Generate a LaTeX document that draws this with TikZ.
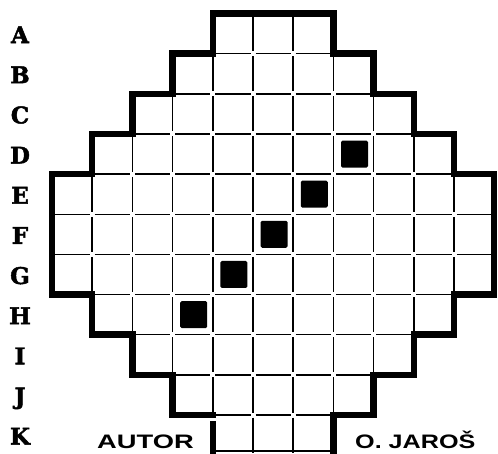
\documentclass[tikz,border=0pt]{standalone}
\usepackage{fontspec}
\newfontfamily\lblfont[BoldFeatures={FakeBold=2}]{DejaVu Serif}
\newfontfamily\sigfont{Liberation Sans}
\tikzset{
  gridline/.style={line width=1.5pt, black},
  outline/.style={line width=6.5pt, line join=miter, line cap=rect, black},
  piece/.style={rectangle, fill=black, rounded corners=1.5pt, minimum size=27pt, inner sep=0pt},
  rowlabel/.style={font=\lblfont\bfseries\fontsize{23}{23}\selectfont, anchor=base, inner sep=0pt},
  signature/.style={font=\sigfont\bfseries\fontsize{19.5}{19.5}\selectfont, anchor=base west, inner sep=0pt},
}
\begin{document}
\begin{tikzpicture}[x=1pt,y=-1pt]
\useasboundingbox (0,0) rectangle (498,453);
\fill[white] (0,0) rectangle (498,453);
\def\cw{40.2}\def\rh{40.15}\def\xo{52}\def\yo{13.5}\def\gp{2.5}
% grid points
\foreach \i in {0,...,11}{
  \foreach \j in {0,...,11}{
    \coordinate (g\i-\j) at (\xo+\cw*\i, \yo+\rh*\j);
  }
}
% thin cell lines
\foreach \r/\a/\b in {0/4/7,1/3/8,2/2/9,3/1/10,4/0/11,5/0/11,6/0/11,7/1/10,8/2/9,9/3/8,10/4/7}{
  \pgfmathtruncatemacro\bl{\b-1}
  \foreach \c in {\a,...,\bl}{
    \pgfmathsetmacro\xl{\xo+\cw*\c}
    \pgfmathsetmacro\yt{\yo+\rh*\r}
    \draw[gridline] (\xl+\gp,\yt) -- (\xl+\cw-\gp,\yt);
    \ifnum\c>\a
      \draw[gridline] (\xl,\yt+\gp) -- (\xl,\yt+\rh-\gp);
    \fi
  }
}
% bottom of row K
\draw[gridline] ([yshift=4pt]g4-11) -- ([yshift=4pt]g7-11);
% thick outline
\draw[outline] (g4-10) -- (g3-10) -- (g3-9) -- (g2-9) -- (g2-8) -- (g1-8) -- (g1-7) -- (g0-7)
  -- (g0-4) -- (g1-4) -- (g1-3) -- (g2-3) -- (g2-2) -- (g3-2) -- (g3-1) -- (g4-1) -- (g4-0)
  -- (g7-0) -- (g7-1) -- (g8-1) -- (g8-2) -- (g9-2) -- (g9-3) -- (g10-3) -- (g10-4) -- (g11-4)
  -- (g11-7) -- (g10-7) -- (g10-8) -- (g9-8) -- (g9-9) -- (g8-9) -- (g8-10) -- (g7-10) -- (g7-11);
\draw[outline, line cap=butt] ([yshift=-6pt]g4-10) -- (g4-11);
% black pieces
\foreach \r/\c in {3/7,4/6,5/5,6/4,7/3}{
  \node[piece] (sq\r) at (\xo+\cw*\c+\cw/2+1, \yo+\rh*\r+\rh/2) {};
}
% row labels
\foreach \j/\L in {0/A,1/B,2/C,3/D,4/E,5/F,6/G,7/H,8/I,9/J,10/K}{
  \node[rowlabel] (lbl\L) at (20, \yo+\rh*\j+\rh/2+9.5) {\L};
}
% signature
\node[signature] (autor) at (97,448) {\scalebox{1.4}[1]{AUTOR}};
\node[signature] (jaros) at (355,448) {\scalebox{1.29}[1]{O. JAROŠ}};
\end{tikzpicture}
\end{document}
